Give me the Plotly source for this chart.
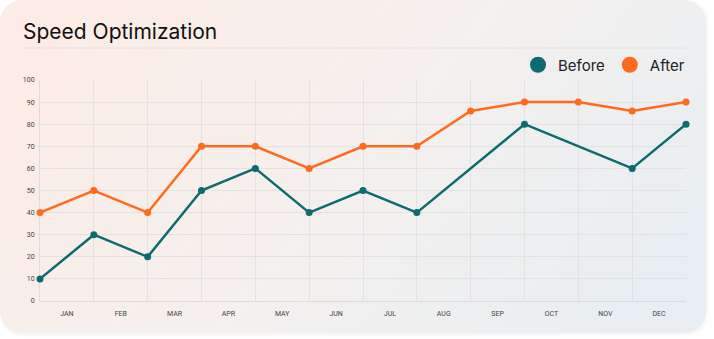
import base64
import plotly.graph_objects as go

# ---- data ----
months = ["JAN", "FEB", "MAR", "APR", "MAY", "JUN", "JUL", "AUG", "SEP", "OCT", "NOV", "DEC"]
x_points = list(range(13))
before = [10, 30, 20, 50, 60, 40, 50, 40, None, 80, None, 60, 80]
after = [40, 50, 40, 70, 70, 60, 70, 70, 86, 90, 90, 86, 90]
y_ticks = list(range(0, 101, 10))

TEAL = "#0b6b6f"
ORANGE = "#ff6a1c"

W, H = 714, 339
L, R, T, B = 40, 28, 80, 38
PW, PH = W - L - R, H - T - B

svg = f'''<svg xmlns="http://www.w3.org/2000/svg" width="{W}" height="{H}" viewBox="0 0 {W} {H}">
<defs>
<linearGradient id="g" x1="0" y1="0.3" x2="1" y2="0.7">
<stop offset="0" stop-color="#fcece5"/>
<stop offset="0.5" stop-color="#f4f0ee"/>
<stop offset="1" stop-color="#e8eef2"/>
</linearGradient>
<filter id="s" x="-5%" y="-5%" width="110%" height="110%">
<feGaussianBlur stdDeviation="2"/>
</filter>
</defs>
<rect x="1" y="1" width="706" height="334" rx="22" ry="22" fill="#000" opacity="0.05" filter="url(#s)"/>
<rect x="0" y="0" width="706" height="333" rx="22" ry="22" fill="url(#g)"/>
</svg>'''
bg_uri = "data:image/svg+xml;base64," + base64.b64encode(svg.encode()).decode()

fig = go.Figure()
fig.add_trace(go.Scatter(x=x_points, y=before, mode="lines+markers", connectgaps=True,
                         line=dict(color=TEAL, width=2.5), marker=dict(color=TEAL, size=7),
                         showlegend=False, name="Before", cliponaxis=False))
fig.add_trace(go.Scatter(x=x_points, y=after, mode="lines+markers",
                         line=dict(color=ORANGE, width=2.5), marker=dict(color=ORANGE, size=7),
                         showlegend=False, name="After", cliponaxis=False))
# legend entries
fig.add_trace(go.Scatter(x=[None], y=[None], mode="markers", name="Before",
                         marker=dict(color=TEAL, size=18)))
fig.add_trace(go.Scatter(x=[None], y=[None], mode="markers", name="After",
                         marker=dict(color=ORANGE, size=18)))

fig.update_layout(
    width=W, height=H,
    margin=dict(l=L, r=R, t=T, b=B, pad=0),
    paper_bgcolor="white",
    plot_bgcolor="rgba(0,0,0,0)",
    font=dict(family="Roboto", color="#444"),
    title=dict(text="Speed Optimization", x=23 / W, xref="container", xanchor="left",
               y=1 - 32 / H, yref="container", yanchor="middle",
               font=dict(family="Inter", size=21, color="#111")),
    legend=dict(orientation="h", x=1 + 4 / PW, xanchor="right", y=1 + 15 / PH, yanchor="middle",
                bgcolor="rgba(0,0,0,0)", font=dict(family="Inter", size=15, color="#222"),
                itemwidth=30, tracegroupgap=0),
    images=[dict(source=bg_uri, xref="paper", yref="paper", x=-L / PW, y=1 + T / PH,
                 sizex=W / PW, sizey=H / PH, sizing="stretch", xanchor="left",
                 yanchor="top", layer="below")],
    shapes=[dict(type="line", xref="paper", yref="paper", x0=-18 / PW, x1=1,
                 y0=1 + 32 / PH, y1=1 + 32 / PH, line=dict(color="#e4e2e0", width=1))],
    hovermode=False,
)
fig.update_xaxes(range=[0, 12], tickmode="array", tickvals=[i + 0.5 for i in range(12)],
                 ticktext=months, showgrid=False, zeroline=False, layer="below traces",
                 showline=True, linecolor="#dcdcdc", linewidth=1, mirror=False,
                 ticks="", tickfont=dict(size=7, color="#444"), ticklabelstandoff=6,
                 minor=dict(tick0=0, dtick=1, showgrid=True, gridcolor="#e2e2e2", gridwidth=1, ticks=""))
fig.update_yaxes(range=[0, 100], tickmode="array", tickvals=y_ticks, showgrid=True,
                 gridcolor="#e2e2e2", gridwidth=1, zeroline=False, showline=True,
                 layer="below traces",
                 linecolor="#dcdcdc", linewidth=1, ticks="", tickfont=dict(size=7, color="#444"),
                 ticklabelstandoff=3)

fig.write_html("out.html")
